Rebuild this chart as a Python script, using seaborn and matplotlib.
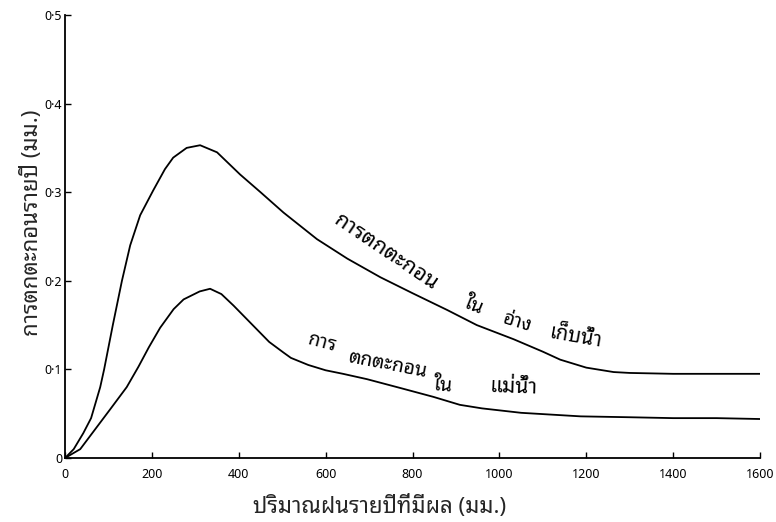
import numpy as np
import pandas as pd
import matplotlib
matplotlib.use("Agg")
import matplotlib.pyplot as plt
import seaborn as sns
from matplotlib import font_manager, ft2font

# ---- data ----
reservoir_x = [0, 20, 42, 60, 81, 90, 110, 131, 150, 173, 203, 230, 249, 280, 311, 350,
               403, 450, 503, 580, 650, 726, 800, 880, 948, 1033, 1100, 1140, 1200,
               1263, 1300, 1400, 1500, 1600]
reservoir_y = [0, 0.010, 0.028, 0.045, 0.080, 0.100, 0.150, 0.200, 0.240, 0.274, 0.302,
               0.326, 0.339, 0.350, 0.353, 0.345, 0.320, 0.300, 0.277, 0.247, 0.225,
               0.204, 0.186, 0.167, 0.150, 0.134, 0.120, 0.111, 0.102, 0.097, 0.096,
               0.095, 0.095, 0.095]
river_x = [0, 35, 81, 104, 142, 169, 193, 219, 250, 273, 310, 334, 360, 388, 434, 470,
           503, 520, 560, 600, 640, 695, 772, 848, 909, 960, 1050, 1187, 1300, 1400,
           1500, 1600]
river_y = [0, 0.010, 0.040, 0.055, 0.080, 0.103, 0.125, 0.147, 0.168, 0.179, 0.188,
           0.191, 0.185, 0.172, 0.149, 0.131, 0.119, 0.113, 0.105, 0.099, 0.095,
           0.089, 0.079, 0.069, 0.060, 0.056, 0.051, 0.047, 0.046, 0.045, 0.045,
           0.044]

x_ticks = [0, 200, 400, 600, 800, 1000, 1200, 1400, 1600]
y_ticks = [0, 0.1, 0.2, 0.3, 0.4, 0.5]
y_tick_labels = ["0", "0·1", "0·2", "0·3", "0·4", "0·5"]
x_label = "ปริมาณฝนรายปีที่มีผล (มม.)"
y_label = "การตกตะกอนรายปี (มม.)"


def find_thai_font():
    cands = []
    for f in font_manager.fontManager.ttflist:
        try:
            cm = ft2font.FT2Font(f.fname).get_charmap()
        except Exception:
            continue
        if 0x0E01 in cm and 0x0E49 in cm and 0x0E33 in cm:
            cands.append(f.name)
    if not cands:
        return None
    for pref in ["Noto Sans Thai", "Loma", "Garuda", "Norasi", "Tlwg"]:
        for c in cands:
            if c.startswith(pref):
                return c
    return cands[0]


sns.set_style("ticks")
thai = find_thai_font()
fams = ([thai] if thai else []) + ["DejaVu Sans"]
plt.rcParams["font.family"] = fams

fig = plt.figure(figsize=(7.76, 5.22), dpi=100)
ax = fig.add_axes([0.0838, 0.1226, 0.8956, 0.8487])

df_res = pd.DataFrame({"x": reservoir_x, "y": reservoir_y})
df_riv = pd.DataFrame({"x": river_x, "y": river_y})
sns.lineplot(data=df_res, x="x", y="y", ax=ax, color="black", lw=1.3, sort=False)
sns.lineplot(data=df_riv, x="x", y="y", ax=ax, color="black", lw=1.3, sort=False)

ax.set_xlim(0, 1600)
ax.set_ylim(0, 0.5)
ax.set_xticks(x_ticks)
ax.set_xticklabels([str(t) for t in x_ticks], fontsize=9)
ax.set_yticks(y_ticks)
ax.set_yticklabels(y_tick_labels, fontsize=9)
ax.tick_params(axis="x", direction="in", length=4, width=1, pad=7, colors="black")
ax.tick_params(axis="y", direction="in", length=4, width=1, pad=2, colors="black")
sns.despine(ax=ax)
for s in ["left", "bottom"]:
    ax.spines[s].set_linewidth(1.3)
    ax.spines[s].set_color("black")

ax.set_xlabel(x_label, fontsize=16)
ax.set_ylabel(y_label, fontsize=16)
ax.xaxis.set_label_coords(0.452, -0.11)
ax.yaxis.set_label_coords(-0.047, 0.53)
ax.xaxis.label.set_va("center")
ax.yaxis.label.set_va("center")


def px2data(px, py):
    return (px - 65) / 0.4344, (458 - py) / 880.0


curve_words = [("การตกตะกอน", 386, 254, -34, 15.5), ("ใน", 474, 307, -22, 14),
               ("อ่าง", 517, 323, -17, 14), ("เก็บน้ำ", 576, 339, -10, 14.5),
               ("การ", 322, 344, -15, 14), ("ตกตะกอน", 387, 365, -11, 14),
               ("ใน", 443, 386, -5, 14), ("แม่น้ำ", 514, 388, -2, 15)]
for w, px, py, rot, fs in curve_words:
    xd, yd = px2data(px, py)
    ax.text(xd, yd, w, rotation=rot, rotation_mode="anchor", ha="center", va="center",
            fontsize=fs, color="black")

fig.savefig("out.png", dpi=100)
